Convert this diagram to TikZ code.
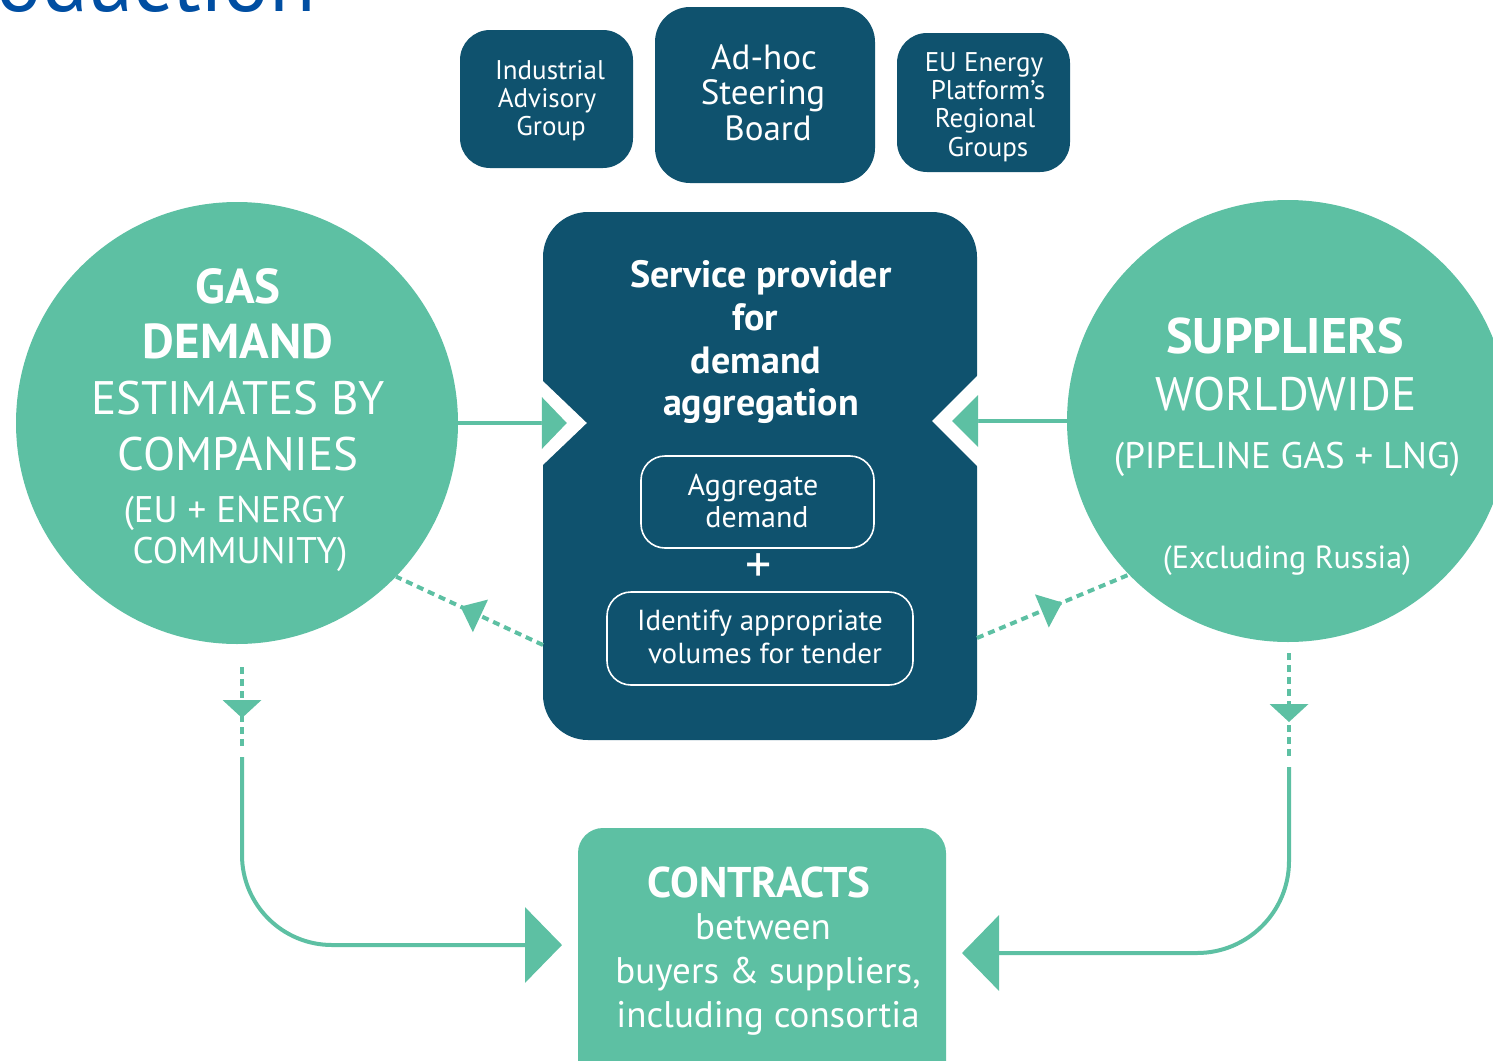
\documentclass[tikz,border=0pt]{standalone}
\usepackage{fontspec}
\setmainfont{PT Sans}
\usetikzlibrary{arrows.meta,decorations.markings}
\definecolor{dk}{RGB}{15,82,110}
\definecolor{gr}{RGB}{93,192,163}
\definecolor{ttl}{RGB}{0,78,162}
\newcommand\fsz[1]{\fontsize{#1}{#1}\selectfont}
\tikzset{
  dkbox/.style={fill=dk, draw=none, inner sep=0pt},
  wt/.style={text=white, anchor=base, inner sep=0pt},
  gline/.style={draw=gr, line width=4pt},
  gdash/.style={draw=gr, line width=4pt, dash pattern=on 7pt off 5pt},
  outl/.style={draw=white, line width=1.6pt, rounded corners=24pt, inner sep=0pt},
  midtri/.style={postaction={decorate}, decoration={markings,
     mark=at position #1 with {\fill[gr] (-12pt,-18pt) -- (10pt,0pt) -- (-12pt,18pt) -- cycle;}}},
  vtri/.style={postaction={decorate}, decoration={markings,
     mark=at position #1 with {\fill[gr] (-18pt,-19.5pt) -- (0pt,0pt) -- (-18pt,19.5pt) -- cycle;}}},
  bigtip/.style={-{Triangle[length=37pt,width=75pt]}}
}
\begin{document}
\begin{tikzpicture}[x=1pt,y=-1pt]
\useasboundingbox (0,0) rectangle (1493,1060);
\clip (0,0) rectangle (1493,1060);

% title fragment
\node[text=ttl, font=\fsz{85}, anchor=base east, inner sep=0pt] (title) at (316,12) {Introduction};

% top boxes
\node[dkbox, rounded corners=30pt, minimum width=173pt, minimum height=138pt] (iag) at (546.5,99) {};
\node[wt, font=\fsz{27}] (iag1) at (550,79) {Industrial};
\node[wt, font=\fsz{27}] (iag2) at (547,107) {Advisory};
\node[wt, font=\fsz{27}] (iag3) at (551,135) {Group};

\node[dkbox, rounded corners=35pt, minimum width=220pt, minimum height=176pt] (ahs) at (765,95) {};
\node[wt, font=\fsz{35}] (ahs1) at (764,69) {Ad-hoc};
\node[wt, font=\fsz{35}] (ahs2) at (763,104) {Steering};
\node[wt, font=\fsz{35}] (ahs3) at (768,140) {Board};

\node[dkbox, rounded corners=30pt, minimum width=173pt, minimum height=139pt] (eep) at (983.5,102.5) {};
\node[wt, font=\fsz{27}] (eep1) at (984,71) {EU Energy};
\node[wt, font=\fsz{27}] (eep2) at (988,99) {Platform’s};
\node[wt, font=\fsz{27}] (eep3) at (985,127) {Regional};
\node[wt, font=\fsz{27}] (eep4) at (988,156) {Groups};

% circles
\node[circle, fill=gr, minimum size=442pt, inner sep=0pt] (lc) at (237,423) {};
\node[circle, fill=gr, minimum size=442pt, inner sep=0pt] (rc) at (1288,421) {};

\node[wt, font=\bfseries\fsz{49}] (lc1) at (238,303) {GAS};
\node[wt, font=\bfseries\fsz{49}] (lc2) at (238,358) {DEMAND};
\node[wt, font=\fsz{47}] (lc3) at (238,414) {ESTIMATES BY};
\node[wt, font=\fsz{47}] (lc4) at (238,470) {COMPANIES};
\node[wt, font=\fsz{37}] (lc5) at (234,522) {(EU + ENERGY};
\node[wt, font=\fsz{37}] (lc6) at (240,563) {COMMUNITY)};

\node[wt, font=\bfseries\fsz{50}] (rc1) at (1285,353) {SUPPLIERS};
\node[wt, font=\fsz{47}] (rc2) at (1286,410) {WORLDWIDE};
\node[wt, font=\fsz{37}] (rc3) at (1287,468) {(PIPELINE GAS + LNG)};
\node[wt, font=\fsz{32}] (rc4) at (1287,568) {(Excluding Russia)};

% main box
\node[dkbox, rounded corners=45pt, minimum width=434pt, minimum height=528pt] (main) at (760,476) {};
\node[wt, font=\bfseries\fsz{38}] (m1) at (761,287) {Service provider};
\node[wt, font=\bfseries\fsz{38}] (m2) at (755,330) {for};
\node[wt, font=\bfseries\fsz{38}] (m3) at (756,373) {demand};
\node[wt, font=\bfseries\fsz{38}] (m4) at (761,415) {aggregation};

\node[outl, minimum width=233pt, minimum height=92pt] (agg) at (757.5,502) {};
\node[wt, font=\fsz{30}] (agg1) at (753,495) {Aggregate};
\node[wt, font=\fsz{30}] (agg2) at (757,527) {demand};
\node[text=white, font=\fsz{52}, inner sep=0pt] (plus) at (759,568) {+};
\node[outl, minimum width=306pt, minimum height=93pt] (idt) at (760,638.5) {};
\node[wt, font=\fsz{29}] (idt1) at (760,630) {Identify appropriate};
\node[wt, font=\fsz{29}] (idt2) at (765,663) {volumes for tender};

% contracts
\node[fill=gr, rounded corners=25pt, minimum width=368pt, minimum height=272pt, inner sep=0pt] (con) at (762,964) {};
\node[wt, font=\bfseries\fsz{43}] (con1) at (759,897) {CONTRACTS};
\node[wt, font=\fsz{37}] (con2) at (763,939) {between};
\node[wt, font=\fsz{37}] (con3) at (768,983) {buyers \& suppliers,};
\node[wt, font=\fsz{37}] (con4) at (768,1027) {including consortia};

% solid arrows into main box (notches)
\coordinate (nl) at (main.west |- lc.east);
\coordinate (nr) at (main.east |- rc.west);
\draw[gline] (lc.east) -- (nl);
\draw[gline] (rc.west) -- (nr);
\fill[white] (nl) ++(-1,-43) -- ++(45,43) -- ++(-45,43) -- cycle;
\fill[gr] (nl) ++(-1,-26) -- ++(25,26) -- ++(-25,26) -- cycle;
\fill[white] (nr) ++(1,-46) -- ++(-46,46) -- ++(46,46) -- cycle;
\fill[gr] (nr) ++(1,-26) -- ++(-26,26) -- ++(26,26) -- cycle;

% dashed feedback arrows
\coordinate (dl) at (543,645);
\coordinate (dr) at (977,638);
\draw[gdash, midtri=0.5] (dl) -- (lc.-44);
\draw[gdash, midtri=0.5] (dr) -- (rc.-136);

% left path to contracts
\coordinate (vl1) at (242,667);
\coordinate (vl2) at (242,750);
\coordinate (vl3) at (242,757);
\coordinate (cl) at (562,945);
\draw[gdash, vtri=51pt] (vl1) -- (vl2);
\draw[gline, rounded corners=90pt, bigtip] (vl3) |- (cl);

% right path to contracts
\coordinate (vr1) at (1289,653);
\coordinate (vr2) at (1289,758);
\coordinate (vr3) at (1289,767);
\coordinate (cr) at (962,953);
\draw[gdash, vtri=69pt] (vr1) -- (vr2);
\draw[gline, rounded corners=92pt, bigtip] (vr3) |- (cr);
\end{tikzpicture}
\end{document}
